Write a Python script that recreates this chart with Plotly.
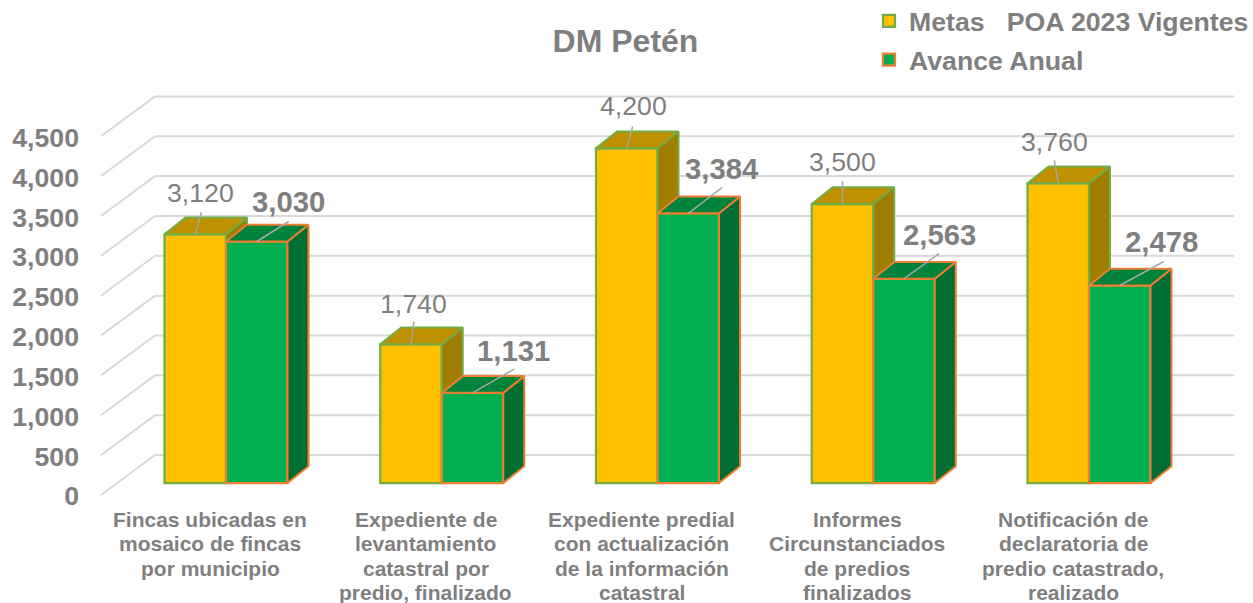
import plotly.graph_objects as go

# ---- data ----
categories = [
    ["Fincas ubicadas en", "mosaico de fincas", "por municipio"],
    ["Expediente de", "levantamiento", "catastral por", "predio, finalizado"],
    ["Expediente predial", "con actualización", "de la información", "catastral"],
    ["Informes", "Circunstanciados", "de predios", "finalizados"],
    ["Notificación de", "declaratoria de", "predio catastrado,", "realizado"],
]
metas = [3120, 1740, 4200, 3500, 3760]
avance = [3030, 1131, 3384, 2563, 2478]
y_ticks = [0, 500, 1000, 1500, 2000, 2500, 3000, 3500, 4000, 4500]
name_metas = "Metas   POA 2023 Vigentes"
name_avance = "Avance Anual"
title_text = "DM Petén"

# ---- scale / layout constants ----
W, H = 1253, 603
PX_PER_GROUP = 215.75
PX_PER_VALUE = 0.0797
GROUP0_PX = 226
BASE_PX = 483
PLOT_LEFT = 82
PLOT_BOTTOM = 505
BAR_W = 61.5 / PX_PER_GROUP
DX = 21 / PX_PER_GROUP     # depth in x units
DY = 210                   # depth in value units
GRID_FRONT = (101 - GROUP0_PX) / PX_PER_GROUP
GRID_BACK = (155 - GROUP0_PX) / PX_PER_GROUP
GRID_RIGHT = (1234 - GROUP0_PX) / PX_PER_GROUP
GRID_FRONT_DV = -150
GRID_BACK_DV = 351
TICK_DV = -165
GREY = "#7f7f7f"
FONT = "Liberation Sans"

# label centre offsets from the bar's front-top centre, pixels (x right, y down)
off_metas = [(5, -41), (2, -40), (7, -42), (0, -42), (-4, -41)]
off_avance = [(32, -40), (41, -42), (34, -45), (35, -44), (42, -44)]
# leader-line end offsets from the same point, pixels (x right, y up)
lead_metas = [(6, 22), (3, 23), (6, 22), (0, 23), (-4, 23)]
lead_avance = [(32, 20), (42, 24), (34, 26), (35, 25), (44, 24)]

fig = go.Figure()
idx = list(range(len(metas)))

fig.add_bar(x=idx, y=metas, name=name_metas, offsetgroup="a", legendgroup="a",
            marker=dict(color="#FFC000", line=dict(color="#70AD47", width=2.25)))
fig.add_bar(x=idx, y=avance, name=name_avance, offsetgroup="b", legendgroup="b",
            marker=dict(color="#00B050", line=dict(color="#ED7D31", width=2.25)))


def poly(xs, ys, fill, line):
    fig.add_scatter(x=xs, y=ys, mode="lines", fill="toself", fillcolor=fill,
                    line=dict(color=line, width=2), showlegend=False, hoverinfo="skip")


# 3-D faces built from the values
sx, sy, tx, ty = [], [], [], []
for i, (a, b) in enumerate(zip(metas, avance)):
    x0, x1 = i - BAR_W, i
    sx += [x1, x1 + DX, x1 + DX, x1, x1, None]
    sy += [a, a + DY, b, b, a, None]
    tx += [x0, x0 + DX, x1 + DX, x1, x0, None]
    ty += [a, a + DY, a + DY, a, a, None]
poly(sx, sy, "#A07C00", "#70AD47")
poly(tx, ty, "#BF9000", "#70AD47")

sx, sy, tx, ty = [], [], [], []
for i, b in enumerate(avance):
    x0, x1 = i, i + BAR_W
    sx += [x1, x1 + DX, x1 + DX, x1, x1, None]
    sy += [0, DY, b + DY, b, 0, None]
    tx += [x0, x0 + DX, x1 + DX, x1, x0, None]
    ty += [b, b + DY, b + DY, b, b, None]
poly(sx, sy, "#006E33", "#ED7D31")
poly(tx, ty, "#00843C", "#ED7D31")

# wall / floor gridlines
shapes = []
for v in y_ticks:
    common = dict(type="line", xref="x", yref="y", layer="below",
                  line=dict(color="#D9D9D9", width=2))
    shapes.append(dict(x0=GRID_FRONT, y0=v + GRID_FRONT_DV, x1=GRID_BACK, y1=v + GRID_BACK_DV, **common))
    shapes.append(dict(x0=GRID_BACK, y0=v + GRID_BACK_DV, x1=GRID_RIGHT, y1=v + GRID_BACK_DV, **common))

# data labels with leader lines
ann = []
for values, sign, offs, leads, bold, size in (
    (metas, -1, off_metas, lead_metas, False, 26.67),
    (avance, 1, off_avance, lead_avance, True, 29.33),
):
    for i, v in enumerate(values):
        xc = i + sign * BAR_W / 2
        lx, ly = leads[i]
        shapes.append(dict(type="line", xref="x", yref="y", layer="above",
                           x0=xc, y0=v, x1=xc + lx / PX_PER_GROUP, y1=v + ly / PX_PER_VALUE,
                           line=dict(color="#A6A6A6", width=1.5)))
        label = f"{v:,}"
        ann.append(dict(x=xc, y=v, text=f"<b>{label}</b>" if bold else label, showarrow=False,
                        xanchor="center", yanchor="middle",
                        xshift=offs[i][0], yshift=-offs[i][1],
                        font=dict(family=FONT, size=size, color=GREY)))

# category labels, one per line for the tight line pitch
for i, lines in enumerate(categories):
    for k, t in enumerate(lines):
        ann.append(dict(x=i - 16 / PX_PER_GROUP, y=0, text=f"<b>{t}</b>", showarrow=False,
                        yanchor="middle", yshift=-(36 + 24.5 * k),
                        font=dict(family=FONT, size=21, color=GREY)))

fig.update_layout(
    width=W, height=H, margin=dict(l=PLOT_LEFT, r=0, t=0, b=H - PLOT_BOTTOM, autoexpand=False),
    paper_bgcolor="white", plot_bgcolor="white",
    barmode="group", bargap=1 - 2 * BAR_W, bargroupgap=0,
    title=dict(text=f"<b>{title_text}</b>", x=625.5 / W, xanchor="center", y=1 - 41 / H, yanchor="middle",
               font=dict(family=FONT, size=32, color=GREY)),
    xaxis=dict(range=[(PLOT_LEFT - GROUP0_PX) / PX_PER_GROUP, (W - GROUP0_PX) / PX_PER_GROUP],
               showgrid=False, zeroline=False, showline=False, showticklabels=False, ticks=""),
    yaxis=dict(range=[(BASE_PX - PLOT_BOTTOM) / PX_PER_VALUE, BASE_PX / PX_PER_VALUE],
               showgrid=False, zeroline=False, showline=False, ticks="", ticklabelstandoff=2,
               tickmode="array", tickvals=[v + TICK_DV for v in y_ticks],
               ticktext=[f"{v:,}" for v in y_ticks],
               tickfont=dict(family=FONT, size=26.67, color=GREY, weight="bold")),
    legend=dict(x=(869 - PLOT_LEFT) / (W - PLOT_LEFT), xref="paper", y=1 + 3 / (PLOT_BOTTOM),
                yanchor="top", xanchor="left",
                font=dict(family=FONT, size=26.67, color=GREY, weight="bold"),
                tracegroupgap=1, bgcolor="rgba(0,0,0,0)"),
    shapes=shapes, annotations=ann, showlegend=True,
)

fig.write_html("out.html", config=dict(displayModeBar=False),
               post_script="document.body.style.margin='0';document.body.style.overflow='hidden';")
